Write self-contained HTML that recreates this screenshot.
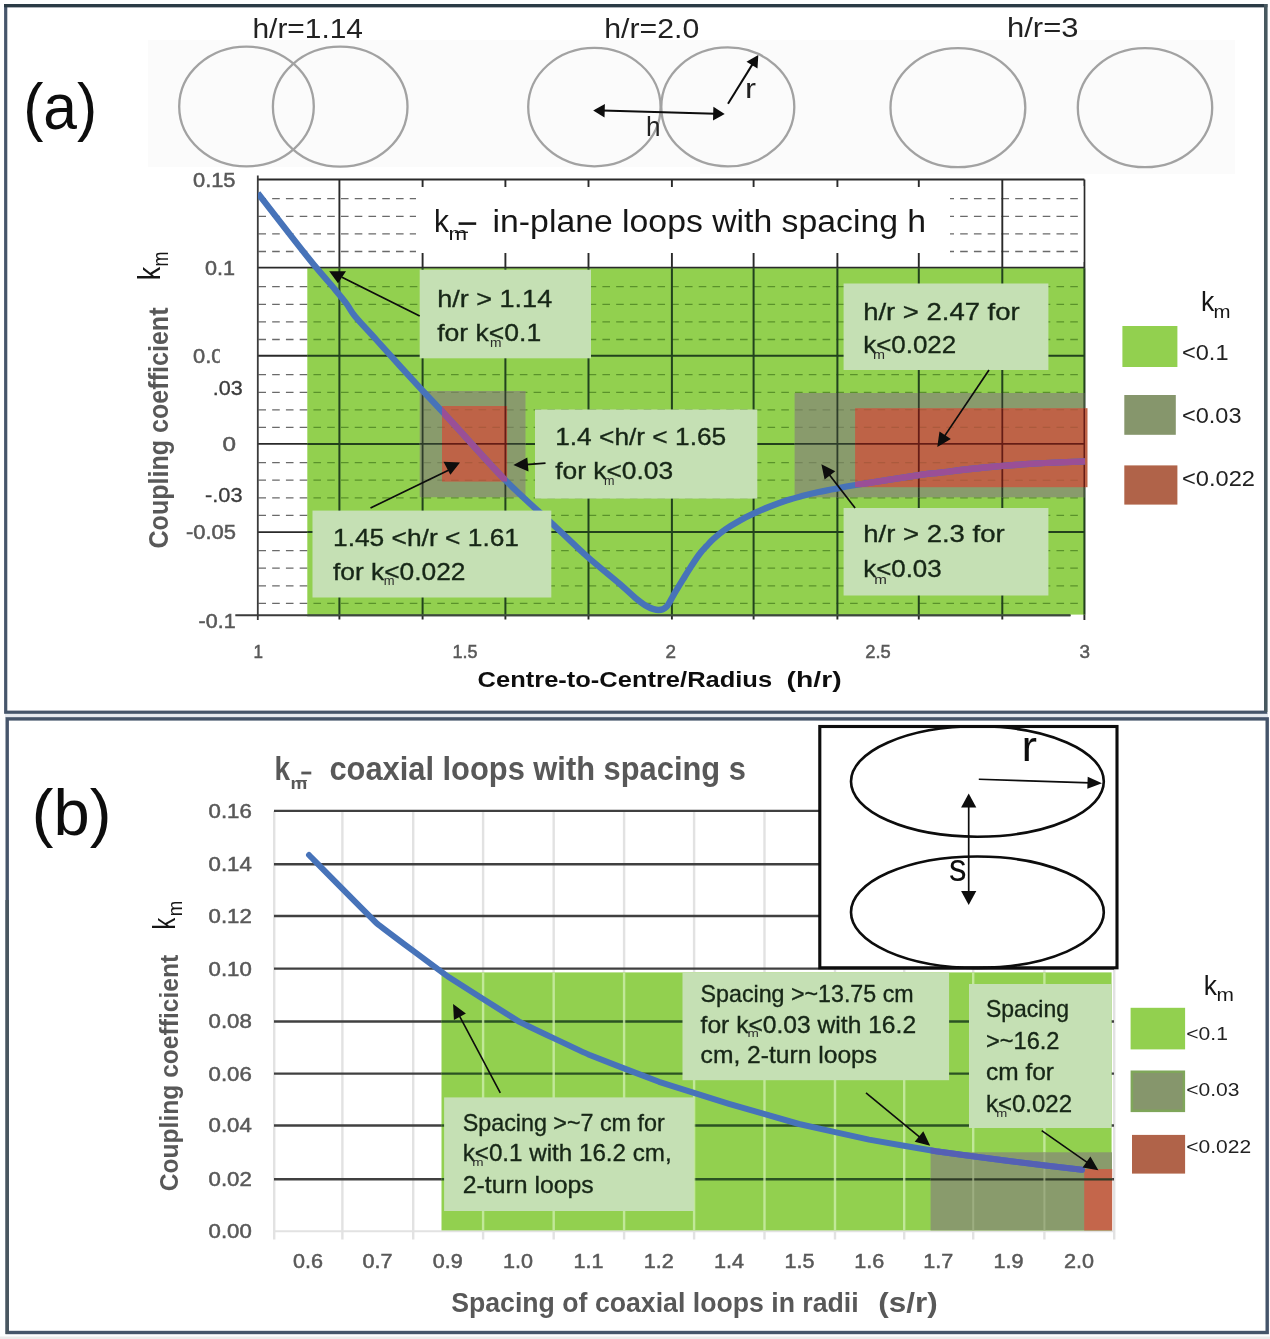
<!DOCTYPE html>
<html><head><meta charset="utf-8"><title>Coupling coefficient of loops</title>
<style>html,body{margin:0;padding:0;background:#fff;}body{width:1270px;height:1339px;overflow:hidden;}svg{display:block;font-family:"Liberation Sans", sans-serif;}</style></head><body>
<svg width="1270" height="1339" viewBox="0 0 1270 1339">
<defs><filter id="soft" x="-2%" y="-2%" width="104%" height="104%"><feGaussianBlur stdDeviation="0.7"/></filter>
<clipPath id="clip005"><rect x="180" y="340" width="39.8" height="30"/></clipPath>
<clipPath id="plotA"><rect x="258" y="179" width="830" height="441"/></clipPath>
</defs>
<g filter="url(#soft)">
<rect x="0.0" y="0.0" width="1270.0" height="1339.0" fill="#fdfefe"/>
<rect x="0.0" y="1336.5" width="1270.0" height="2.5" fill="#ebebeb"/>
<rect x="5.0" y="713.0" width="1263.0" height="5.0" fill="#e6eaef"/>
<rect x="5.7" y="5.6" width="1260" height="706.6" fill="#ffffff" stroke="#44546a" stroke-width="3.2"/>
<line x1="4.0" y1="5.6" x2="1267.4" y2="5.6" stroke="#2c3b45" stroke-width="3.4"/>
<line x1="1265.7" y1="4.0" x2="1265.7" y2="712.0" stroke="#46585f" stroke-width="3.4"/>
<rect x="7.2" y="718.9" width="1260" height="613.6" fill="#ffffff" stroke="#44546a" stroke-width="3.4"/>
<line x1="7.2" y1="900.0" x2="7.2" y2="1334.0" stroke="#46565f" stroke-width="3.4"/>
<rect x="148.0" y="40.0" width="1087.0" height="127.0" fill="#fbfbfb"/>
<rect x="700.0" y="160.0" width="535.0" height="14.0" fill="#fbfbfb"/>
<ellipse cx="246.5" cy="106.5" rx="67.3" ry="59.8" fill="none" stroke="#a2a2a2" stroke-width="2.3"/>
<ellipse cx="340.2" cy="106.7" rx="67.3" ry="60" fill="none" stroke="#a2a2a2" stroke-width="2.3"/>
<ellipse cx="594.4" cy="107.1" rx="66.2" ry="59.2" fill="none" stroke="#a2a2a2" stroke-width="2.3"/>
<ellipse cx="727.8" cy="106.9" rx="66.5" ry="59.5" fill="none" stroke="#a2a2a2" stroke-width="2.3"/>
<ellipse cx="957.9" cy="107.7" rx="67.4" ry="59.5" fill="none" stroke="#a2a2a2" stroke-width="2.3"/>
<ellipse cx="1145" cy="107.7" rx="67.2" ry="59.5" fill="none" stroke="#a2a2a2" stroke-width="2.3"/>
<text x="252.5" y="38.3" font-size="27.5" fill="#222" textLength="110.5" lengthAdjust="spacingAndGlyphs" xml:space="preserve">h/r=1.14</text>
<text x="604.3" y="38.3" font-size="27.5" fill="#222" textLength="95.0" lengthAdjust="spacingAndGlyphs" xml:space="preserve">h/r=2.0</text>
<text x="1007.0" y="37.4" font-size="27.5" fill="#222" textLength="71.5" lengthAdjust="spacingAndGlyphs" xml:space="preserve">h/r=3</text>
<line x1="602.4" y1="110.6" x2="715.5" y2="113.7" stroke="#0b0b0b" stroke-width="2"/>
<polygon points="724.7,113.9 713.0,120.4 713.4,106.8" fill="#0b0b0b"/>
<polygon points="593.2,110.4 604.5,117.5 604.9,103.9" fill="#0b0b0b"/>
<line x1="728.0" y1="103.8" x2="753.2" y2="63.1" stroke="#0b0b0b" stroke-width="2"/>
<polygon points="758.3,54.9 757.5,68.5 746.5,61.7" fill="#0b0b0b"/>
<text x="646.0" y="136.0" font-size="27" fill="#222" textLength="14.5" lengthAdjust="spacingAndGlyphs" xml:space="preserve">h</text>
<text x="745.0" y="98.3" font-size="28" fill="#222" textLength="11.0" lengthAdjust="spacingAndGlyphs" xml:space="preserve">r</text>
<text x="23.2" y="129.0" font-size="65" fill="#0c0c0c" textLength="74.0" lengthAdjust="spacingAndGlyphs" xml:space="preserve">(a)</text>
<rect x="257.8" y="179.5" width="826.6" height="440.5" fill="#ffffff"/>
<defs><g id="gdash">
<line x1="258.4" y1="198.7" x2="1084.4" y2="198.7" stroke-dasharray="7.6 6.16"/>
<line x1="258.4" y1="216.3" x2="1084.4" y2="216.3" stroke-dasharray="7.6 6.16"/>
<line x1="258.4" y1="233.9" x2="1084.4" y2="233.9" stroke-dasharray="7.6 6.16"/>
<line x1="258.4" y1="251.5" x2="1084.4" y2="251.5" stroke-dasharray="7.6 6.16"/>
<line x1="258.4" y1="286.7" x2="1084.4" y2="286.7" stroke-dasharray="7.6 6.16"/>
<line x1="258.4" y1="304.3" x2="1084.4" y2="304.3" stroke-dasharray="7.6 6.16"/>
<line x1="258.4" y1="321.9" x2="1084.4" y2="321.9" stroke-dasharray="7.6 6.16"/>
<line x1="258.4" y1="339.5" x2="1084.4" y2="339.5" stroke-dasharray="7.6 6.16"/>
<line x1="258.4" y1="374.7" x2="1084.4" y2="374.7" stroke-dasharray="7.6 6.16"/>
<line x1="258.4" y1="392.3" x2="1084.4" y2="392.3" stroke-dasharray="7.6 6.16"/>
<line x1="258.4" y1="409.8" x2="1084.4" y2="409.8" stroke-dasharray="7.6 6.16"/>
<line x1="258.4" y1="427.4" x2="1084.4" y2="427.4" stroke-dasharray="7.6 6.16"/>
<line x1="258.4" y1="462.6" x2="1084.4" y2="462.6" stroke-dasharray="7.6 6.16"/>
<line x1="258.4" y1="480.2" x2="1084.4" y2="480.2" stroke-dasharray="7.6 6.16"/>
<line x1="258.4" y1="497.8" x2="1084.4" y2="497.8" stroke-dasharray="7.6 6.16"/>
<line x1="258.4" y1="515.4" x2="1084.4" y2="515.4" stroke-dasharray="7.6 6.16"/>
<line x1="258.4" y1="550.6" x2="1084.4" y2="550.6" stroke-dasharray="7.6 6.16"/>
<line x1="258.4" y1="568.2" x2="1084.4" y2="568.2" stroke-dasharray="7.6 6.16"/>
<line x1="258.4" y1="585.8" x2="1084.4" y2="585.8" stroke-dasharray="7.6 6.16"/>
<line x1="258.4" y1="603.4" x2="1084.4" y2="603.4" stroke-dasharray="7.6 6.16"/>
</g><g id="gsolid">
<line x1="257.8" y1="179.5" x2="1084.4" y2="179.5"/>
<line x1="257.8" y1="267.6" x2="1084.4" y2="267.6"/>
<line x1="257.8" y1="355.8" x2="1084.4" y2="355.8"/>
<line x1="257.8" y1="443.9" x2="1084.4" y2="443.9"/>
<line x1="257.8" y1="532.1" x2="1084.4" y2="532.1"/>
<line x1="339.4" y1="179.5" x2="339.4" y2="619.5"/>
<line x1="422.6" y1="179.5" x2="422.6" y2="619.5"/>
<line x1="505.4" y1="179.5" x2="505.4" y2="619.5"/>
<line x1="588.5" y1="179.5" x2="588.5" y2="619.5"/>
<line x1="671.9" y1="179.5" x2="671.9" y2="619.5"/>
<line x1="753.6" y1="179.5" x2="753.6" y2="619.5"/>
<line x1="837.4" y1="179.5" x2="837.4" y2="619.5"/>
<line x1="918.8" y1="179.5" x2="918.8" y2="619.5"/>
<line x1="1002.3" y1="179.5" x2="1002.3" y2="619.5"/>
<line x1="1084.4" y1="179.5" x2="1084.4" y2="620"/>
</g>
<clipPath id="zG"><rect x="307.3" y="268.2" width="778.2" height="346.4"/></clipPath>
<clipPath id="zY"><rect x="419.7" y="391" width="105.8" height="106.2"/><rect x="794.6" y="393" width="289.9" height="104.3"/></clipPath>
<clipPath id="zR"><rect x="442" y="406" width="65.1" height="75.6"/><rect x="855.1" y="408.2" width="229.9" height="79"/></clipPath>
</defs>
<g><use href="#gdash" stroke="#6a6a6a" stroke-width="1.3"/><use href="#gsolid" stroke="#2a2a2a" stroke-width="1.9"/></g>
<line x1="257.8" y1="175.6" x2="257.8" y2="620.0" stroke="#3a3a3a" stroke-width="1.8"/>
<line x1="235.3" y1="615.2" x2="1070.5" y2="615.2" stroke="#3a3a3a" stroke-width="1.9"/>
<rect x="307.3" y="268.2" width="777.6" height="346.4" fill="#92d050"/>
<g clip-path="url(#zG)"><use href="#gdash" stroke="#5a922a" stroke-width="1.3"/><use href="#gsolid" stroke="#20421f" stroke-width="2.0"/></g>
<line x1="307.3" y1="615.2" x2="1070.5" y2="615.2" stroke="#3a4a3a" stroke-width="1.9"/>
<rect x="419.7" y="391.0" width="105.8" height="106.2" fill="#899b6c"/>
<rect x="794.6" y="393.0" width="289.9" height="104.3" fill="#899b6c"/>
<g clip-path="url(#zY)"><use href="#gdash" stroke="#75855a" stroke-width="1.2"/><use href="#gsolid" stroke="#2e3c2c" stroke-width="1.8"/></g>
<rect x="442.0" y="406.0" width="65.1" height="75.6" fill="#be6446"/>
<rect x="855.1" y="408.2" width="232.4" height="79.0" fill="#be6446"/>
<g clip-path="url(#zR)"><use href="#gdash" stroke="#ab5a3e" stroke-width="1.1"/><use href="#gsolid" stroke="#661f17" stroke-width="1.8"/></g>
<rect x="416.0" y="187.0" width="534.0" height="66.0" fill="#ffffff"/>
<rect x="1079.6" y="186.0" width="3.8" height="76.0" fill="#ffffff"/>
<g clip-path="url(#plotA)"><path d="M257.8,193.2 C263.8,200.9 284.2,227.2 293.9,239.6 C303.6,252.0 309.4,259.4 316.2,267.6 C323.0,275.8 329.5,282.9 334.6,289.0 C339.7,295.1 343.3,299.4 346.7,304.0 C350.1,308.6 350.2,310.5 355.2,316.5 C360.2,322.5 367.0,329.5 376.5,340.0 C386.0,350.5 400.1,366.2 412.4,379.6 C424.7,393.0 435.0,403.8 450.4,420.4 C465.8,437.0 487.0,461.5 504.6,479.4 C522.2,497.2 542.4,514.6 556.2,527.5 C570.1,540.4 577.1,547.6 587.7,557.0 C598.3,566.4 612.0,577.2 620.0,584.1 C628.0,591.0 631.1,594.5 635.7,598.2 C640.3,602.0 643.8,604.6 647.6,606.6 C651.4,608.6 655.5,610.0 658.6,610.0 C661.8,610.0 664.0,609.2 666.5,606.7 C669.0,604.2 670.8,599.7 673.5,595.1 C676.2,590.5 680.1,584.1 683.0,579.4 C685.9,574.7 688.2,570.9 690.9,566.8 C693.6,562.6 696.6,558.0 699.2,554.5 C701.8,551.0 704.2,548.6 706.6,546.0 C709.0,543.4 710.4,541.5 713.5,538.8 C716.6,536.0 720.8,532.6 725.2,529.5 C729.6,526.4 735.3,523.0 740.0,520.4 C744.7,517.8 748.4,516.0 753.4,513.7 C758.4,511.4 764.4,508.7 770.0,506.5 C775.6,504.3 781.7,502.1 787.2,500.3 C792.7,498.5 797.8,497.2 803.0,495.8 C808.2,494.4 813.5,493.1 818.7,492.0 C824.0,490.9 828.4,490.2 834.5,489.0 C840.6,487.8 841.8,487.3 855.6,485.0 C869.4,482.7 903.2,477.5 917.3,475.4 C931.4,473.3 928.9,473.9 940.0,472.6 C951.1,471.3 967.9,469.0 984.2,467.5 C1000.5,466.0 1020.9,464.4 1037.7,463.4 C1054.5,462.4 1077.1,461.7 1085.0,461.4" fill="none" stroke="#4673b9" stroke-width="6.3" stroke-linejoin="round" stroke-linecap="butt"/></g>
<clipPath id="redA"><rect x="442" y="406" width="65.1" height="75.6"/><rect x="855.1" y="408.2" width="232.4" height="79"/></clipPath>
<g clip-path="url(#redA)"><path d="M257.8,193.2 C263.8,200.9 284.2,227.2 293.9,239.6 C303.6,252.0 309.4,259.4 316.2,267.6 C323.0,275.8 329.5,282.9 334.6,289.0 C339.7,295.1 343.3,299.4 346.7,304.0 C350.1,308.6 350.2,310.5 355.2,316.5 C360.2,322.5 367.0,329.5 376.5,340.0 C386.0,350.5 400.1,366.2 412.4,379.6 C424.7,393.0 435.0,403.8 450.4,420.4 C465.8,437.0 487.0,461.5 504.6,479.4 C522.2,497.2 542.4,514.6 556.2,527.5 C570.1,540.4 577.1,547.6 587.7,557.0 C598.3,566.4 612.0,577.2 620.0,584.1 C628.0,591.0 631.1,594.5 635.7,598.2 C640.3,602.0 643.8,604.6 647.6,606.6 C651.4,608.6 655.5,610.0 658.6,610.0 C661.8,610.0 664.0,609.2 666.5,606.7 C669.0,604.2 670.8,599.7 673.5,595.1 C676.2,590.5 680.1,584.1 683.0,579.4 C685.9,574.7 688.2,570.9 690.9,566.8 C693.6,562.6 696.6,558.0 699.2,554.5 C701.8,551.0 704.2,548.6 706.6,546.0 C709.0,543.4 710.4,541.5 713.5,538.8 C716.6,536.0 720.8,532.6 725.2,529.5 C729.6,526.4 735.3,523.0 740.0,520.4 C744.7,517.8 748.4,516.0 753.4,513.7 C758.4,511.4 764.4,508.7 770.0,506.5 C775.6,504.3 781.7,502.1 787.2,500.3 C792.7,498.5 797.8,497.2 803.0,495.8 C808.2,494.4 813.5,493.1 818.7,492.0 C824.0,490.9 828.4,490.2 834.5,489.0 C840.6,487.8 841.8,487.3 855.6,485.0 C869.4,482.7 903.2,477.5 917.3,475.4 C931.4,473.3 928.9,473.9 940.0,472.6 C951.1,471.3 967.9,469.0 984.2,467.5 C1000.5,466.0 1020.9,464.4 1037.7,463.4 C1054.5,462.4 1077.1,461.7 1085.0,461.4" fill="none" stroke="#9a5096" stroke-width="6.3" stroke-linejoin="round"/></g>
<rect x="419.7" y="269.7" width="171.3" height="88.6" fill="#c5e0b4"/>
<rect x="535.0" y="409.5" width="222.3" height="89.1" fill="#c5e0b4"/>
<rect x="312.5" y="510.6" width="238.8" height="86.9" fill="#c5e0b4"/>
<rect x="843.6" y="283.5" width="204.8" height="86.5" fill="#c5e0b4"/>
<rect x="843.6" y="508.0" width="204.8" height="87.5" fill="#c5e0b4"/>
<line x1="419.7" y1="316.0" x2="342.0" y2="277.3" stroke="#0b0b0b" stroke-width="1.7"/>
<polygon points="329.2,271.3 346,271.3 338,283.2" fill="#0b0b0b"/>
<line x1="545.5" y1="463.1" x2="526.0" y2="464.6" stroke="#0b0b0b" stroke-width="1.7"/>
<polygon points="513.4,465.1 527.3,457.6 528.5,471.4" fill="#0b0b0b"/>
<line x1="370.5" y1="508.0" x2="450.0" y2="469.6" stroke="#0b0b0b" stroke-width="1.7"/>
<polygon points="443.5,461.8 460,462.5 450.4,474.8" fill="#0b0b0b"/>
<line x1="989.0" y1="370.0" x2="943.5" y2="437.6" stroke="#0b0b0b" stroke-width="1.7"/>
<polygon points="937.3,446.9 939.5,431.5 950.8,439.1" fill="#0b0b0b"/>
<line x1="855.1" y1="508.0" x2="828.2" y2="473.2" stroke="#0b0b0b" stroke-width="1.7"/>
<polygon points="821.4,464.3 835.3,471.2 824.6,479.5" fill="#0b0b0b"/>
<text x="437.2" y="306.7" font-size="24.5" fill="#172617" textLength="115.0" lengthAdjust="spacingAndGlyphs" stroke="#172617" stroke-width="0.35" xml:space="preserve">h/r &gt; 1.14</text>
<text x="437.2" y="340.7" font-size="24.5" fill="#172617" textLength="104.0" lengthAdjust="spacingAndGlyphs" stroke="#172617" stroke-width="0.35" xml:space="preserve">for k&lt;0.1</text>
<text x="490.0" y="347.3" font-size="12" fill="#2a2a2a" textLength="11.5" lengthAdjust="spacingAndGlyphs" xml:space="preserve">m</text>
<text x="555.2" y="444.6" font-size="24.5" fill="#172617" textLength="171.0" lengthAdjust="spacingAndGlyphs" stroke="#172617" stroke-width="0.35" xml:space="preserve">1.4 &lt;h/r &lt; 1.65</text>
<text x="555.2" y="479.4" font-size="24.5" fill="#172617" textLength="118.0" lengthAdjust="spacingAndGlyphs" stroke="#172617" stroke-width="0.35" xml:space="preserve">for k&lt;0.03</text>
<text x="604.0" y="485.2" font-size="12" fill="#2a2a2a" textLength="10.5" lengthAdjust="spacingAndGlyphs" xml:space="preserve">m</text>
<text x="333.0" y="545.5" font-size="24.5" fill="#172617" textLength="186.0" lengthAdjust="spacingAndGlyphs" stroke="#172617" stroke-width="0.35" xml:space="preserve">1.45 &lt;h/r &lt; 1.61</text>
<text x="333.0" y="580.3" font-size="24.5" fill="#172617" textLength="132.5" lengthAdjust="spacingAndGlyphs" stroke="#172617" stroke-width="0.35" xml:space="preserve">for k&lt;0.022</text>
<text x="383.7" y="584.8" font-size="12" fill="#2a2a2a" textLength="10.8" lengthAdjust="spacingAndGlyphs" xml:space="preserve">m</text>
<text x="863.2" y="319.6" font-size="24.5" fill="#172617" textLength="156.5" lengthAdjust="spacingAndGlyphs" stroke="#172617" stroke-width="0.35" xml:space="preserve">h/r &gt; 2.47 for</text>
<text x="863.2" y="353.1" font-size="24.5" fill="#172617" textLength="93.0" lengthAdjust="spacingAndGlyphs" stroke="#172617" stroke-width="0.35" xml:space="preserve">k&lt;0.022</text>
<text x="873.0" y="359.3" font-size="12" fill="#2a2a2a" textLength="12.0" lengthAdjust="spacingAndGlyphs" xml:space="preserve">m</text>
<text x="863.2" y="542.0" font-size="24.5" fill="#172617" textLength="141.5" lengthAdjust="spacingAndGlyphs" stroke="#172617" stroke-width="0.35" xml:space="preserve">h/r &gt; 2.3 for</text>
<text x="863.2" y="576.8" font-size="24.5" fill="#172617" textLength="78.5" lengthAdjust="spacingAndGlyphs" stroke="#172617" stroke-width="0.35" xml:space="preserve">k&lt;0.03</text>
<text x="874.2" y="584.0" font-size="12" fill="#2a2a2a" textLength="12.6" lengthAdjust="spacingAndGlyphs" xml:space="preserve">m</text>
<text x="434.0" y="232.0" font-size="31" fill="#161616" textLength="15.0" lengthAdjust="spacingAndGlyphs" xml:space="preserve">k</text>
<text x="448.4" y="240.4" font-size="19" fill="#161616" textLength="18.6" lengthAdjust="spacingAndGlyphs" xml:space="preserve">m</text>
<line x1="458.6" y1="223.6" x2="476.2" y2="223.6" stroke="#161616" stroke-width="2.6"/>
<line x1="455.0" y1="232.3" x2="468.0" y2="232.3" stroke="#161616" stroke-width="1.3"/>
<text x="492.6" y="232.0" font-size="31" fill="#161616" textLength="433.5" lengthAdjust="spacingAndGlyphs" xml:space="preserve">in-plane loops with spacing h</text>
<text x="193.0" y="186.5" font-size="19.5" fill="#595959" textLength="42.5" lengthAdjust="spacingAndGlyphs" stroke="#595959" stroke-width="0.5" xml:space="preserve">0.15</text>
<text x="205.0" y="274.6" font-size="19.5" fill="#595959" textLength="30.0" lengthAdjust="spacingAndGlyphs" stroke="#595959" stroke-width="0.5" xml:space="preserve">0.1</text>
<g clip-path="url(#clip005)">
<text x="193.0" y="362.8" font-size="19.5" fill="#595959" textLength="42.5" lengthAdjust="spacingAndGlyphs" stroke="#595959" stroke-width="0.5" xml:space="preserve">0.05</text>
</g>
<text x="212.8" y="394.6" font-size="19.5" fill="#3c3c3c" textLength="30.0" lengthAdjust="spacingAndGlyphs" stroke="#3c3c3c" stroke-width="0.3" xml:space="preserve">.03</text>
<text x="222.6" y="451.0" font-size="19.5" fill="#595959" textLength="13.5" lengthAdjust="spacingAndGlyphs" stroke="#595959" stroke-width="0.5" xml:space="preserve">0</text>
<text x="205.0" y="501.5" font-size="19.5" fill="#3c3c3c" textLength="37.5" lengthAdjust="spacingAndGlyphs" stroke="#3c3c3c" stroke-width="0.3" xml:space="preserve">-.03</text>
<text x="186.0" y="539.3" font-size="19.5" fill="#595959" textLength="50.0" lengthAdjust="spacingAndGlyphs" stroke="#595959" stroke-width="0.5" xml:space="preserve">-0.05</text>
<text x="198.6" y="628.0" font-size="19.5" fill="#595959" textLength="37.0" lengthAdjust="spacingAndGlyphs" stroke="#595959" stroke-width="0.5" xml:space="preserve">-0.1</text>
<text x="253.5" y="657.6" font-size="18" fill="#595959" textLength="9.5" lengthAdjust="spacingAndGlyphs" stroke="#595959" stroke-width="0.5" xml:space="preserve">1</text>
<text x="452.5" y="657.6" font-size="18" fill="#595959" textLength="25.0" lengthAdjust="spacingAndGlyphs" stroke="#595959" stroke-width="0.5" xml:space="preserve">1.5</text>
<text x="665.5" y="657.6" font-size="18" fill="#595959" textLength="10.5" lengthAdjust="spacingAndGlyphs" stroke="#595959" stroke-width="0.5" xml:space="preserve">2</text>
<text x="865.2" y="657.6" font-size="18" fill="#595959" textLength="25.5" lengthAdjust="spacingAndGlyphs" stroke="#595959" stroke-width="0.5" xml:space="preserve">2.5</text>
<text x="1079.5" y="657.6" font-size="18" fill="#595959" textLength="10.5" lengthAdjust="spacingAndGlyphs" stroke="#595959" stroke-width="0.5" xml:space="preserve">3</text>
<text x="477.6" y="687.0" font-size="21.8" font-weight="bold" fill="#111" textLength="294.5" lengthAdjust="spacingAndGlyphs" xml:space="preserve">Centre-to-Centre/Radius</text>
<text x="786.6" y="687.0" font-size="21.8" font-weight="bold" fill="#111" textLength="55.0" lengthAdjust="spacingAndGlyphs" xml:space="preserve">(h/r)</text>
<text x="168.0" y="548.5" font-size="27" font-weight="bold" fill="#595959" textLength="241.0" lengthAdjust="spacingAndGlyphs" transform="rotate(-90 168.0 548.5)" xml:space="preserve">Coupling coefficient</text>
<text x="160.5" y="280.2" font-size="31" fill="#161616" textLength="13.5" lengthAdjust="spacingAndGlyphs" transform="rotate(-90 160.5 280.2)" xml:space="preserve">k</text>
<text x="168.0" y="266.6" font-size="22" fill="#161616" textLength="15.0" lengthAdjust="spacingAndGlyphs" transform="rotate(-90 168.0 266.6)" xml:space="preserve">m</text>
<text x="1200.9" y="311.4" font-size="28.5" fill="#161616" textLength="13.3" lengthAdjust="spacingAndGlyphs" xml:space="preserve">k</text>
<text x="1213.6" y="317.6" font-size="18" fill="#161616" textLength="17.0" lengthAdjust="spacingAndGlyphs" xml:space="preserve">m</text>
<rect x="1122.4" y="326.0" width="55.0" height="41.0" fill="#92d050"/>
<rect x="1124.3" y="395.0" width="51.5" height="39.8" fill="#86966c"/>
<rect x="1124.3" y="465.4" width="53.1" height="39.2" fill="#b06448"/>
<text x="1182.0" y="359.6" font-size="22" fill="#222" textLength="46.5" lengthAdjust="spacingAndGlyphs" xml:space="preserve">&lt;0.1</text>
<text x="1182.0" y="423.0" font-size="22" fill="#222" textLength="59.5" lengthAdjust="spacingAndGlyphs" xml:space="preserve">&lt;0.03</text>
<text x="1182.0" y="485.9" font-size="22" fill="#222" textLength="73.0" lengthAdjust="spacingAndGlyphs" xml:space="preserve">&lt;0.022</text>
<line x1="274.2" y1="811.0" x2="274.2" y2="1239.5" stroke="#e2e2e2" stroke-width="2.4"/>
<line x1="342.4" y1="811.0" x2="342.4" y2="1239.5" stroke="#e2e2e2" stroke-width="2.4"/>
<line x1="413.2" y1="811.0" x2="413.2" y2="1239.5" stroke="#e2e2e2" stroke-width="2.4"/>
<line x1="483.1" y1="811.0" x2="483.1" y2="1239.5" stroke="#e2e2e2" stroke-width="2.4"/>
<line x1="553.7" y1="811.0" x2="553.7" y2="1239.5" stroke="#e2e2e2" stroke-width="2.4"/>
<line x1="624.1" y1="811.0" x2="624.1" y2="1239.5" stroke="#e2e2e2" stroke-width="2.4"/>
<line x1="694.1" y1="811.0" x2="694.1" y2="1239.5" stroke="#e2e2e2" stroke-width="2.4"/>
<line x1="764.5" y1="811.0" x2="764.5" y2="1239.5" stroke="#e2e2e2" stroke-width="2.4"/>
<line x1="835.0" y1="811.0" x2="835.0" y2="1239.5" stroke="#e2e2e2" stroke-width="2.4"/>
<line x1="904.2" y1="811.0" x2="904.2" y2="1239.5" stroke="#e2e2e2" stroke-width="2.4"/>
<line x1="973.2" y1="811.0" x2="973.2" y2="1239.5" stroke="#e2e2e2" stroke-width="2.4"/>
<line x1="1044.4" y1="811.0" x2="1044.4" y2="1239.5" stroke="#e2e2e2" stroke-width="2.4"/>
<line x1="1114.2" y1="811.0" x2="1114.2" y2="1239.5" stroke="#e2e2e2" stroke-width="2.4"/>
<line x1="274.0" y1="1231.2" x2="1114.0" y2="1231.2" stroke="#e2e2e2" stroke-width="2.0"/>
<defs><g id="hgB">
<line x1="274" y1="1179.3" x2="1114" y2="1179.3"/>
<line x1="274" y1="1125.5" x2="1114" y2="1125.5"/>
<line x1="274" y1="1073.6" x2="1114" y2="1073.6"/>
<line x1="274" y1="1021.5" x2="1114" y2="1021.5"/>
<line x1="274" y1="968.6" x2="1114" y2="968.6"/>
<line x1="274" y1="916.0" x2="1114" y2="916.0"/>
<line x1="274" y1="864.3" x2="1114" y2="864.3"/>
<line x1="274" y1="810.9" x2="1114" y2="810.9"/>
</g>
<clipPath id="bG"><rect x="441.5" y="972.4" width="670.1" height="258"/></clipPath>
<clipPath id="bY"><rect x="930.6" y="1152.3" width="181.4" height="78.1"/></clipPath>
</defs>
<use href="#hgB" stroke="#414141" stroke-width="2.4"/>
<rect x="441.5" y="972.4" width="670.1" height="258.0" fill="#92d050"/>
<use href="#hgB" stroke="#2b5222" stroke-width="2.4" clip-path="url(#bG)"/>
<line x1="483.1" y1="972.4" x2="483.1" y2="1230.4" stroke="#cdeeaa" stroke-width="2.4" opacity="0.8"/>
<line x1="553.7" y1="972.4" x2="553.7" y2="1230.4" stroke="#cdeeaa" stroke-width="2.4" opacity="0.8"/>
<line x1="624.1" y1="972.4" x2="624.1" y2="1230.4" stroke="#cdeeaa" stroke-width="2.4" opacity="0.8"/>
<line x1="694.1" y1="972.4" x2="694.1" y2="1230.4" stroke="#cdeeaa" stroke-width="2.4" opacity="0.8"/>
<line x1="764.5" y1="972.4" x2="764.5" y2="1230.4" stroke="#cdeeaa" stroke-width="2.4" opacity="0.8"/>
<line x1="835.0" y1="972.4" x2="835.0" y2="1230.4" stroke="#cdeeaa" stroke-width="2.4" opacity="0.8"/>
<line x1="904.2" y1="972.4" x2="904.2" y2="1230.4" stroke="#cdeeaa" stroke-width="2.4" opacity="0.8"/>
<line x1="973.2" y1="972.4" x2="973.2" y2="1230.4" stroke="#cdeeaa" stroke-width="2.4" opacity="0.8"/>
<line x1="1044.4" y1="972.4" x2="1044.4" y2="1230.4" stroke="#cdeeaa" stroke-width="2.4" opacity="0.8"/>
<rect x="930.6" y="1152.3" width="181.4" height="78.1" fill="#899b6c"/>
<rect x="1084.2" y="1169.0" width="28.0" height="61.4" fill="#c4664c"/>
<use href="#hgB" stroke="#2e3a26" stroke-width="2.2" clip-path="url(#bY)"/>
<line x1="973.2" y1="1152.3" x2="973.2" y2="1230.4" stroke="#a3b387" stroke-width="2.0" opacity="0.8"/>
<line x1="1044.4" y1="1152.3" x2="1044.4" y2="1230.4" stroke="#a3b387" stroke-width="2.0" opacity="0.8"/>
<rect x="444.1" y="1097.4" width="249.9" height="113.6" fill="#c5e0b4"/>
<rect x="682.5" y="972.4" width="266.6" height="107.8" fill="#c5e0b4"/>
<rect x="969.0" y="984.0" width="142.6" height="144.0" fill="#c5e0b4"/>
<path d="M309.0,855.0 C310.8,856.8 373.3,920.1 377.0,923.4 C380.7,926.7 445.2,974.7 449.0,977.3 C452.8,979.9 515.3,1019.5 519.0,1021.6 C522.7,1023.7 585.3,1053.2 589.0,1054.8 C592.7,1056.4 655.3,1080.5 659.0,1081.8 C662.7,1083.1 725.3,1102.7 729.0,1103.8 C732.7,1104.9 795.3,1123.0 799.0,1124.0 C802.7,1125.0 865.3,1138.9 869.0,1139.6 C872.7,1140.3 932.3,1150.7 936.0,1151.3 C939.7,1151.9 1005.1,1160.5 1009.0,1161.0 C1012.9,1161.5 1080.1,1169.6 1082.0,1169.8" fill="none" stroke="#4673b9" stroke-width="6.0" stroke-linejoin="round" stroke-linecap="round"/>
<clipPath id="grayB"><rect x="930.6" y="1140" width="160" height="90"/></clipPath>
<g clip-path="url(#grayB)"><path d="M309.0,855.0 C310.8,856.8 373.3,920.1 377.0,923.4 C380.7,926.7 445.2,974.7 449.0,977.3 C452.8,979.9 515.3,1019.5 519.0,1021.6 C522.7,1023.7 585.3,1053.2 589.0,1054.8 C592.7,1056.4 655.3,1080.5 659.0,1081.8 C662.7,1083.1 725.3,1102.7 729.0,1103.8 C732.7,1104.9 795.3,1123.0 799.0,1124.0 C802.7,1125.0 865.3,1138.9 869.0,1139.6 C872.7,1140.3 932.3,1150.7 936.0,1151.3 C939.7,1151.9 1005.1,1160.5 1009.0,1161.0 C1012.9,1161.5 1080.1,1169.6 1082.0,1169.8" fill="none" stroke="#5560b4" stroke-width="6.0" stroke-linecap="round"/></g>
<line x1="500.3" y1="1092.9" x2="458.5" y2="1014.1" stroke="#0b0b0b" stroke-width="1.6"/>
<polygon points="453.1,1003.9 465.9,1013.5 453.9,1019.9" fill="#0b0b0b"/>
<line x1="866.0" y1="1092.9" x2="921.2" y2="1138.4" stroke="#0b0b0b" stroke-width="1.6"/>
<polygon points="930.2,1145.8 914.7,1141.8 923.3,1131.3" fill="#0b0b0b"/>
<line x1="1041.7" y1="1130.6" x2="1088.9" y2="1163.6" stroke="#0b0b0b" stroke-width="1.6"/>
<polygon points="1098.4,1170.3 1082.6,1167.6 1090.4,1156.4" fill="#0b0b0b"/>
<text x="462.7" y="1130.7" font-size="24" fill="#172617" textLength="202.0" lengthAdjust="spacingAndGlyphs" stroke="#172617" stroke-width="0.35" xml:space="preserve">Spacing &gt;~7 cm for</text>
<text x="462.7" y="1161.4" font-size="24" fill="#172617" textLength="209.0" lengthAdjust="spacingAndGlyphs" stroke="#172617" stroke-width="0.35" xml:space="preserve">k&lt;0.1 with 16.2 cm,</text>
<text x="472.2" y="1166.4" font-size="11.5" fill="#2a2a2a" textLength="11.3" lengthAdjust="spacingAndGlyphs" xml:space="preserve">m</text>
<text x="462.7" y="1193.3" font-size="24" fill="#172617" textLength="131.0" lengthAdjust="spacingAndGlyphs" stroke="#172617" stroke-width="0.35" xml:space="preserve">2-turn loops</text>
<text x="700.6" y="1002.2" font-size="24" fill="#172617" textLength="213.0" lengthAdjust="spacingAndGlyphs" stroke="#172617" stroke-width="0.35" xml:space="preserve">Spacing &gt;~13.75 cm</text>
<text x="700.6" y="1033.1" font-size="24" fill="#172617" textLength="215.5" lengthAdjust="spacingAndGlyphs" stroke="#172617" stroke-width="0.35" xml:space="preserve">for k&lt;0.03 with 16.2</text>
<text x="747.5" y="1037.2" font-size="11.5" fill="#2a2a2a" textLength="11.3" lengthAdjust="spacingAndGlyphs" xml:space="preserve">m</text>
<text x="700.6" y="1063.4" font-size="24" fill="#172617" textLength="176.5" lengthAdjust="spacingAndGlyphs" stroke="#172617" stroke-width="0.35" xml:space="preserve">cm, 2-turn loops</text>
<text x="986.0" y="1017.3" font-size="24" fill="#172617" textLength="83.0" lengthAdjust="spacingAndGlyphs" stroke="#172617" stroke-width="0.35" xml:space="preserve">Spacing</text>
<text x="986.0" y="1049.0" font-size="24" fill="#172617" textLength="73.5" lengthAdjust="spacingAndGlyphs" stroke="#172617" stroke-width="0.35" xml:space="preserve">&gt;~16.2</text>
<text x="986.0" y="1080.4" font-size="24" fill="#172617" textLength="68.0" lengthAdjust="spacingAndGlyphs" stroke="#172617" stroke-width="0.35" xml:space="preserve">cm for</text>
<text x="986.0" y="1111.8" font-size="24" fill="#172617" textLength="86.0" lengthAdjust="spacingAndGlyphs" stroke="#172617" stroke-width="0.35" xml:space="preserve">k&lt;0.022</text>
<text x="996.2" y="1116.5" font-size="11.5" fill="#2a2a2a" textLength="11.0" lengthAdjust="spacingAndGlyphs" xml:space="preserve">m</text>
<rect x="819.8" y="726.5" width="297.2" height="241.3" fill="#ffffff" stroke="#0a0a0a" stroke-width="3.1"/>
<ellipse cx="977.4" cy="781.5" rx="126.4" ry="55.2" fill="none" stroke="#0a0a0a" stroke-width="2.6"/>
<ellipse cx="977.4" cy="912.2" rx="126.4" ry="55.7" fill="none" stroke="#0a0a0a" stroke-width="2.6"/>
<line x1="978.8" y1="779.3" x2="1090.4" y2="782.9" stroke="#0b0b0b" stroke-width="1.6"/>
<polygon points="1102.0,783.3 1087.3,788.8 1087.7,776.8" fill="#0b0b0b"/>
<line x1="968.7" y1="804.6" x2="968.7" y2="893.9" stroke="#0b0b0b" stroke-width="1.7"/>
<polygon points="968.7,905.1 961.1,891.1 976.3,891.1" fill="#0b0b0b"/>
<polygon points="968.7,793.4 961.1,807.4 976.3,807.4" fill="#0b0b0b"/>
<text x="1021.5" y="761.0" font-size="43" fill="#111" textLength="15.5" lengthAdjust="spacingAndGlyphs" xml:space="preserve">r</text>
<text x="949.0" y="880.5" font-size="38" fill="#111" textLength="17.5" lengthAdjust="spacingAndGlyphs" xml:space="preserve">s</text>
<text x="31.8" y="834.5" font-size="65" fill="#0c0c0c" textLength="79.5" lengthAdjust="spacingAndGlyphs" xml:space="preserve">(b)</text>
<text x="274.6" y="780.0" font-size="33" font-weight="bold" fill="#595959" textLength="15.5" lengthAdjust="spacingAndGlyphs" xml:space="preserve">k</text>
<text x="290.4" y="788.7" font-size="16" font-weight="bold" fill="#595959" textLength="16.8" lengthAdjust="spacingAndGlyphs" xml:space="preserve">m</text>
<line x1="301.3" y1="773.0" x2="311.3" y2="773.0" stroke="#595959" stroke-width="2.8"/>
<line x1="296.0" y1="780.6" x2="307.0" y2="780.6" stroke="#595959" stroke-width="1.2"/>
<text x="329.4" y="780.0" font-size="33" font-weight="bold" fill="#595959" textLength="416.5" lengthAdjust="spacingAndGlyphs" xml:space="preserve">coaxial loops with spacing s</text>
<text x="208.6" y="1237.9" font-size="19.5" fill="#595959" textLength="43.2" lengthAdjust="spacingAndGlyphs" stroke="#595959" stroke-width="0.5" xml:space="preserve">0.00</text>
<text x="208.6" y="1186.2" font-size="19.5" fill="#595959" textLength="43.2" lengthAdjust="spacingAndGlyphs" stroke="#595959" stroke-width="0.5" xml:space="preserve">0.02</text>
<text x="208.6" y="1132.4" font-size="19.5" fill="#595959" textLength="43.2" lengthAdjust="spacingAndGlyphs" stroke="#595959" stroke-width="0.5" xml:space="preserve">0.04</text>
<text x="208.6" y="1080.5" font-size="19.5" fill="#595959" textLength="43.2" lengthAdjust="spacingAndGlyphs" stroke="#595959" stroke-width="0.5" xml:space="preserve">0.06</text>
<text x="208.6" y="1028.4" font-size="19.5" fill="#595959" textLength="43.2" lengthAdjust="spacingAndGlyphs" stroke="#595959" stroke-width="0.5" xml:space="preserve">0.08</text>
<text x="208.6" y="975.5" font-size="19.5" fill="#595959" textLength="43.2" lengthAdjust="spacingAndGlyphs" stroke="#595959" stroke-width="0.5" xml:space="preserve">0.10</text>
<text x="208.6" y="922.9" font-size="19.5" fill="#595959" textLength="43.2" lengthAdjust="spacingAndGlyphs" stroke="#595959" stroke-width="0.5" xml:space="preserve">0.12</text>
<text x="208.6" y="871.2" font-size="19.5" fill="#595959" textLength="43.2" lengthAdjust="spacingAndGlyphs" stroke="#595959" stroke-width="0.5" xml:space="preserve">0.14</text>
<text x="208.6" y="817.8" font-size="19.5" fill="#595959" textLength="43.2" lengthAdjust="spacingAndGlyphs" stroke="#595959" stroke-width="0.5" xml:space="preserve">0.16</text>
<text x="292.9" y="1268.4" font-size="19.5" fill="#595959" textLength="30.0" lengthAdjust="spacingAndGlyphs" stroke="#595959" stroke-width="0.5" xml:space="preserve">0.6</text>
<text x="362.4" y="1268.4" font-size="19.5" fill="#595959" textLength="30.0" lengthAdjust="spacingAndGlyphs" stroke="#595959" stroke-width="0.5" xml:space="preserve">0.7</text>
<text x="432.8" y="1268.4" font-size="19.5" fill="#595959" textLength="30.0" lengthAdjust="spacingAndGlyphs" stroke="#595959" stroke-width="0.5" xml:space="preserve">0.9</text>
<text x="503.0" y="1268.4" font-size="19.5" fill="#595959" textLength="30.0" lengthAdjust="spacingAndGlyphs" stroke="#595959" stroke-width="0.5" xml:space="preserve">1.0</text>
<text x="573.5" y="1268.4" font-size="19.5" fill="#595959" textLength="30.0" lengthAdjust="spacingAndGlyphs" stroke="#595959" stroke-width="0.5" xml:space="preserve">1.1</text>
<text x="643.7" y="1268.4" font-size="19.5" fill="#595959" textLength="30.0" lengthAdjust="spacingAndGlyphs" stroke="#595959" stroke-width="0.5" xml:space="preserve">1.2</text>
<text x="713.9" y="1268.4" font-size="19.5" fill="#595959" textLength="30.0" lengthAdjust="spacingAndGlyphs" stroke="#595959" stroke-width="0.5" xml:space="preserve">1.4</text>
<text x="784.4" y="1268.4" font-size="19.5" fill="#595959" textLength="30.0" lengthAdjust="spacingAndGlyphs" stroke="#595959" stroke-width="0.5" xml:space="preserve">1.5</text>
<text x="854.2" y="1268.4" font-size="19.5" fill="#595959" textLength="30.0" lengthAdjust="spacingAndGlyphs" stroke="#595959" stroke-width="0.5" xml:space="preserve">1.6</text>
<text x="923.3" y="1268.4" font-size="19.5" fill="#595959" textLength="30.0" lengthAdjust="spacingAndGlyphs" stroke="#595959" stroke-width="0.5" xml:space="preserve">1.7</text>
<text x="993.4" y="1268.4" font-size="19.5" fill="#595959" textLength="30.0" lengthAdjust="spacingAndGlyphs" stroke="#595959" stroke-width="0.5" xml:space="preserve">1.9</text>
<text x="1063.9" y="1268.4" font-size="19.5" fill="#595959" textLength="30.0" lengthAdjust="spacingAndGlyphs" stroke="#595959" stroke-width="0.5" xml:space="preserve">2.0</text>
<text x="451.2" y="1311.8" font-size="27" font-weight="bold" fill="#595959" textLength="407.5" lengthAdjust="spacingAndGlyphs" xml:space="preserve">Spacing of coaxial loops in radii</text>
<text x="878.2" y="1311.8" font-size="27" font-weight="bold" fill="#595959" textLength="59.5" lengthAdjust="spacingAndGlyphs" xml:space="preserve">(s/r)</text>
<text x="178.4" y="1191.3" font-size="25.5" font-weight="bold" fill="#595959" textLength="236.5" lengthAdjust="spacingAndGlyphs" transform="rotate(-90 178.4 1191.3)" xml:space="preserve">Coupling coefficient</text>
<text x="174.8" y="929.4" font-size="31" fill="#161616" textLength="11.8" lengthAdjust="spacingAndGlyphs" transform="rotate(-90 174.8 929.4)" xml:space="preserve">k</text>
<text x="181.8" y="916.3" font-size="20" fill="#161616" textLength="15.6" lengthAdjust="spacingAndGlyphs" transform="rotate(-90 181.8 916.3)" xml:space="preserve">m</text>
<text x="1203.8" y="995.2" font-size="28.5" fill="#161616" textLength="13.2" lengthAdjust="spacingAndGlyphs" xml:space="preserve">k</text>
<text x="1216.4" y="1001.2" font-size="18" fill="#161616" textLength="17.4" lengthAdjust="spacingAndGlyphs" xml:space="preserve">m</text>
<rect x="1130.6" y="1007.8" width="54.5" height="41.6" fill="#92d050"/>
<rect x="1130.6" y="1070.5" width="54.5" height="41.6" fill="#7fa65a"/>
<rect x="1133.2" y="1073.0" width="49.4" height="36.6" fill="#86966c"/>
<rect x="1132.0" y="1134.9" width="53.1" height="38.7" fill="#b06448"/>
<text x="1186.3" y="1039.9" font-size="19" fill="#222" textLength="41.6" lengthAdjust="spacingAndGlyphs" xml:space="preserve">&lt;0.1</text>
<text x="1186.3" y="1095.8" font-size="19" fill="#222" textLength="53.2" lengthAdjust="spacingAndGlyphs" xml:space="preserve">&lt;0.03</text>
<text x="1186.3" y="1153.3" font-size="19" fill="#222" textLength="64.8" lengthAdjust="spacingAndGlyphs" xml:space="preserve">&lt;0.022</text>
</g>
</svg></body></html>
